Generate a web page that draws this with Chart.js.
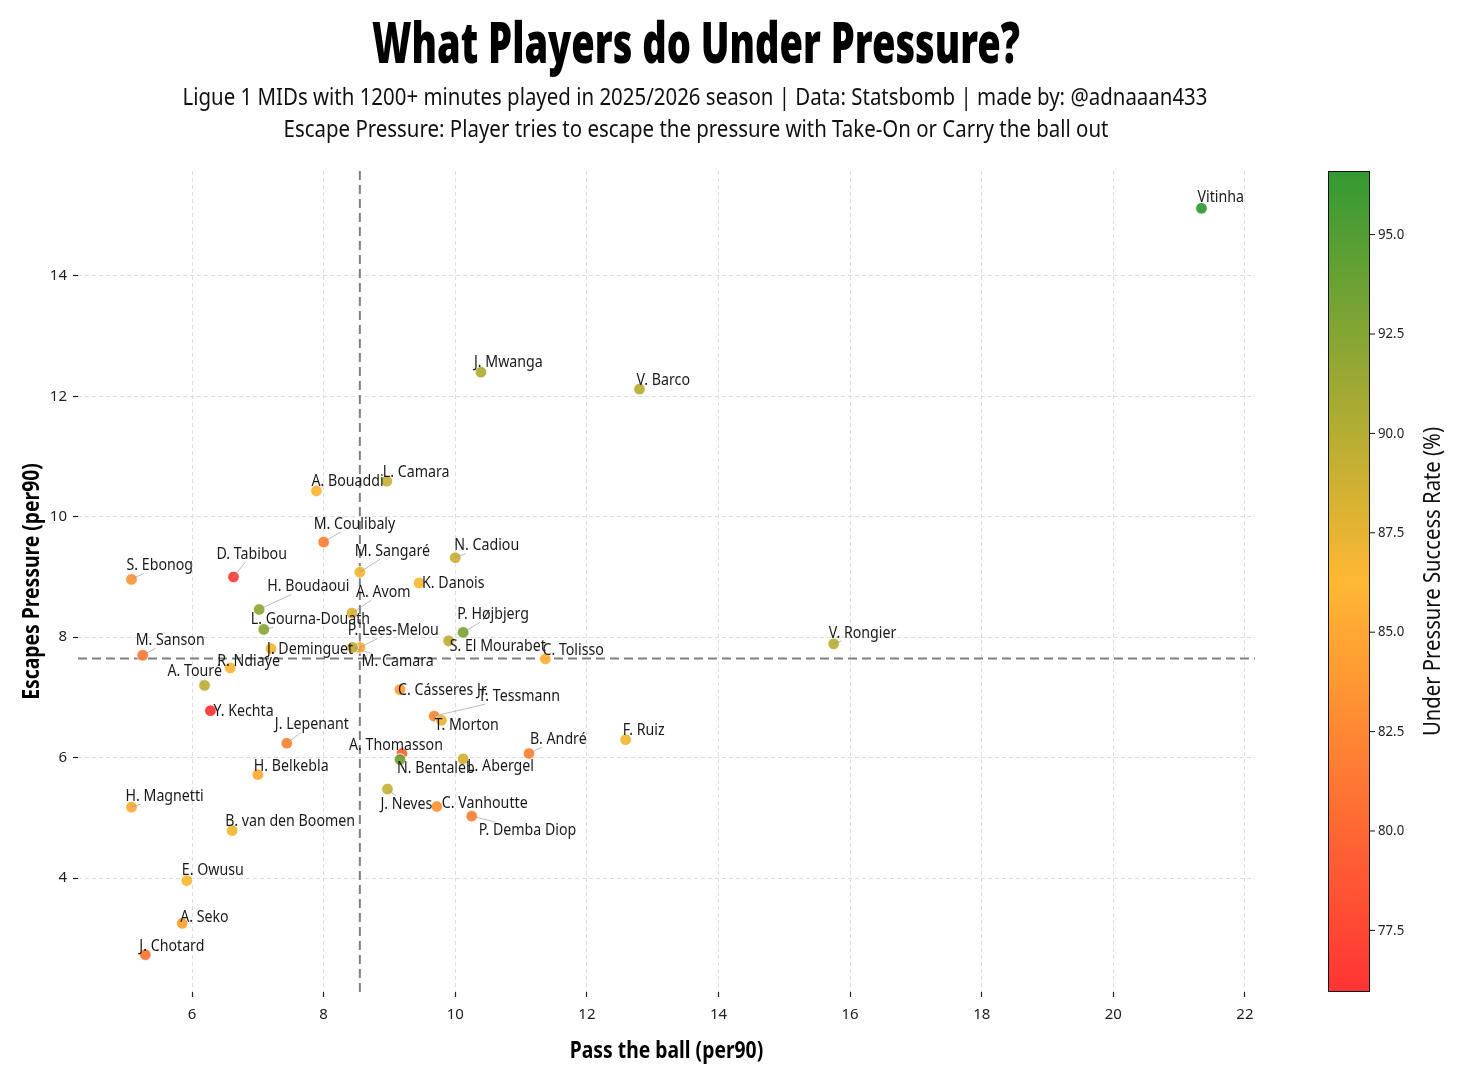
<!DOCTYPE html>
<html>
<head>
<meta charset="utf-8">
<script src="https://cdn.jsdelivr.net/npm/chart.js@4.4.1/dist/chart.umd.min.js"></script>
<style>
html, body { margin: 0; padding: 0; background: #fff; }
canvas { display: block; }
</style>
</head>
<body>
<canvas id="chart" width="1460" height="1078"></canvas>
<script>
// data
var players = ["Vitinha", "J. Mwanga", "V. Barco", "L. Camara", "A. Bouaddi", "M. Coulibaly",
  "D. Tabibou", "S. Ebonog", "M. Sangaré", "N. Cadiou", "K. Danois", "H. Boudaoui", "A. Avom",
  "L. Gourna-Douath", "P. Højbjerg", "S. El Mourabet", "J. Deminguet", "P. Lees-Melou", "M. Camara",
  "C. Tolisso", "V. Rongier", "M. Sanson", "R. Ndiaye", "A. Touré", "Y. Kechta", "J. Lepenant",
  "C. Cásseres Jr.", "T. Tessmann", "T. Morton", "A. Thomasson", "N. Bentaleb", "L. Abergel",
  "B. André", "F. Ruiz", "J. Neves", "C. Vanhoutte", "P. Demba Diop", "H. Belkebla", "H. Magnetti",
  "B. van den Boomen", "E. Owusu", "A. Seko", "J. Chotard"];
var passBall = [21.34, 10.39, 12.80, 8.96, 7.89, 8.00, 6.63, 5.08, 8.55, 10.00, 9.45, 7.02, 8.43,
  7.09, 10.12, 9.90, 7.20, 8.55, 8.44, 11.37, 15.75, 5.25, 6.58, 6.19, 6.28, 7.44,
  9.16, 9.68, 9.79, 9.19, 9.16, 10.12, 11.12, 12.59, 8.97, 9.72, 10.25, 7.00, 5.08,
  6.61, 5.92, 5.85, 5.29];
var escapes = [15.12, 12.40, 12.12, 10.59, 10.43, 9.58, 9.00, 8.96, 9.08, 9.32, 8.90, 8.46, 8.40,
  8.13, 8.08, 7.94, 7.81, 7.83, 7.83, 7.64, 7.89, 7.70, 7.49, 7.20, 6.78, 6.24,
  7.13, 6.69, 6.62, 6.07, 5.97, 5.98, 6.07, 6.30, 5.48, 5.19, 5.03, 5.72, 5.18,
  4.79, 3.96, 3.25, 2.73];
var successRate = [96.6, 90.3, 90.0, 89.0, 86.0, 82.0, 76.5, 83.5, 87.0, 89.0, 86.5, 92.0, 88.0,
  92.3, 93.0, 89.5, 87.0, 85.0, 89.5, 85.5, 89.7, 81.5, 86.0, 89.5, 75.95, 82.0,
  84.0, 82.5, 87.5, 79.5, 93.5, 88.5, 82.0, 87.0, 89.0, 83.5, 82.0, 85.0, 85.0,
  87.0, 86.5, 84.5, 81.0];
var medianPass = 8.55;
var medianEscapes = 7.645;
var cbTicks = [77.5, 80.0, 82.5, 85.0, 87.5, 90.0, 92.5, 95.0];

// label offsets from each dot, in pixels (dx to text left, dy to text middle)
var labelOffsets = [[-4,-11],[-7,-10],[-3,-9],[-4,-9],[-5,-10],[-10,-18],[-17,-23],[-5,-14],[-5,-21],
  [-1,-12],[3,0],[8,-23],[4,-21],[-13,-10],[-6,-18],[1,5],[-4,1],[-12,-17],[9,14],[-3,-9],[-5,-11],
  [-7,-15],[-13,-7],[-37,-14],[3,1],[-12,-19],[-2,1],[44,-20],[-7,5],[-53,-8],[-3,9],[4,7],[1,-14],
  [-3,-9],[-7,15],[5,-3],[7,14],[-4,-8],[-6,-11],[-7,-9],[-5,-10],[-2,-6],[-6,-8]];

var FAM = '"Noto Sans", "Open Sans", sans-serif';
var cbMin = Math.min.apply(null, successRate);
var cbMax = Math.max.apply(null, successRate);
var cmap = [[255, 51, 51], [255, 184, 51], [51, 153, 51]];

function rateColor(v, a) {
  var t = (v - cbMin) / (cbMax - cbMin);
  t = Math.max(0, Math.min(1, t));
  var s = t < 0.5 ? 0 : 1;
  var u = t < 0.5 ? t / 0.5 : (t - 0.5) / 0.5;
  var c0 = cmap[s], c1 = cmap[s + 1];
  var r = Math.round(c0[0] + (c1[0] - c0[0]) * u);
  var g = Math.round(c0[1] + (c1[1] - c0[1]) * u);
  var b = Math.round(c0[2] + (c1[2] - c0[2]) * u);
  return 'rgba(' + r + ',' + g + ',' + b + ',' + a + ')';
}

function spanX(arr) {
  var lo = Math.min.apply(null, arr), hi = Math.max.apply(null, arr), m = (hi - lo) * 0.05;
  return [lo - m, hi + m];
}
var xLim = spanX(passBall);
var yLim = spanX(escapes);

// draw text squeezed to a condensed look
function condText(ctx, txt, x, y, squeeze) {
  ctx.save();
  ctx.translate(x, y);
  ctx.scale(squeeze, 1);
  ctx.fillText(txt, 0, 0);
  ctx.restore();
}

var decor = {
  id: 'decor',
  beforeDatasetsDraw: function(chart) {
    var ctx = chart.ctx, a = chart.chartArea;
    var xs = chart.scales.x, ys = chart.scales.y;
    ctx.save();
    ctx.strokeStyle = '#808080';
    ctx.lineWidth = 2;
    ctx.setLineDash([9, 5]);
    var mx = xs.getPixelForValue(medianPass);
    ctx.beginPath(); ctx.moveTo(mx, a.top); ctx.lineTo(mx, a.bottom); ctx.stroke();
    var my = ys.getPixelForValue(medianEscapes);
    ctx.beginPath(); ctx.moveTo(a.left, my); ctx.lineTo(a.right, my); ctx.stroke();
    ctx.restore();
  },
  afterDatasetsDraw: function(chart) {
    var ctx = chart.ctx;
    var meta = chart.getDatasetMeta(0);
    var sq = 0.86;
    ctx.save();
    ctx.font = '16.5px ' + FAM;
    ctx.textBaseline = 'middle';
    ctx.textAlign = 'left';
    meta.data.forEach(function(pt, i) {
      var off = labelOffsets[i];
      var lx = pt.x + off[0], ly = pt.y + off[1];
      var w = ctx.measureText(players[i]).width * sq;
      var cx = lx + w / 2, cy = ly;
      var l = lx, r = lx + w, t = ly - 8, b = ly + 8;
      var inside = pt.x >= l && pt.x <= r && pt.y >= t && pt.y <= b;
      if (!inside) {
        var dx = cx - pt.x, dy = cy - pt.y;
        var tY = 0;
        if (dy > 0 && pt.y < t) tY = (t - pt.y) / dy;
        if (dy < 0 && pt.y > b) tY = (b - pt.y) / dy;
        var tX = 0;
        if (dx > 0 && pt.x < l) tX = (l - pt.x) / dx;
        if (dx < 0 && pt.x > r) tX = (r - pt.x) / dx;
        var tk = Math.max(tX, tY);
        var ex = pt.x + dx * tk, ey = pt.y + dy * tk;
        if (Math.hypot(ex - pt.x, ey - pt.y) > 7) {
          ctx.strokeStyle = 'rgba(150,150,150,0.8)';
          ctx.lineWidth = 0.8;
          ctx.beginPath(); ctx.moveTo(pt.x, pt.y); ctx.lineTo(ex, ey); ctx.stroke();
        }
      }
      ctx.fillStyle = '#1a1a1a';
      condText(ctx, players[i], lx, ly, sq);
    });
    ctx.restore();
  },
  afterDraw: function(chart) {
    var ctx = chart.ctx, a = chart.chartArea;
    ctx.save();
    // titles
    ctx.fillStyle = '#000';
    ctx.textAlign = 'left';
    ctx.textBaseline = 'alphabetic';
    ctx.font = '900 56px ' + FAM;
    var tw = ctx.measureText('What Players do Under Pressure?').width;
    var s = 648 / tw;
    condText(ctx, 'What Players do Under Pressure?', 696 - 324, 63, s);

    ctx.font = '24px ' + FAM;
    ctx.textBaseline = 'middle';
    ctx.fillStyle = '#111';
    var sub1 = 'Ligue 1 MIDs with 1200+ minutes played in 2025/2026 season | Data: Statsbomb | made by: @adnaaan433';
    var sub2 = 'Escape Pressure: Player tries to escape the pressure with Take-On or Carry the ball out';
    var w1 = ctx.measureText(sub1).width, s1 = 1025 / w1;
    condText(ctx, sub1, 695 - 512.5, 98, s1);
    var w2 = ctx.measureText(sub2).width;
    condText(ctx, sub2, 696 - w2 * s1 / 2, 130, s1);

    // axis titles
    ctx.fillStyle = '#000';
    ctx.font = 'bold 23px ' + FAM;
    ctx.textAlign = 'center';
    ctx.save();
    ctx.translate((a.left + a.right) / 2, 1051);
    ctx.scale(0.84, 1);
    ctx.fillText('Pass the ball (per90)', 0, 0);
    ctx.restore();
    ctx.save();
    ctx.translate(32, (a.top + a.bottom) / 2);
    ctx.rotate(-Math.PI / 2);
    ctx.scale(0.84, 1);
    ctx.fillText('Escapes Pressure (per90)', 0, 0);
    ctx.restore();

    // colour bar
    var x0 = 1328, x1 = 1370, top = a.top, bot = a.bottom;
    var grad = ctx.createLinearGradient(0, bot, 0, top);
    grad.addColorStop(0, rateColor(cbMin, 1));
    grad.addColorStop(0.5, rateColor((cbMin + cbMax) / 2, 1));
    grad.addColorStop(1, rateColor(cbMax, 1));
    ctx.fillStyle = grad;
    ctx.fillRect(x0, top, x1 - x0, bot - top);
    ctx.strokeStyle = '#111';
    ctx.lineWidth = 1;
    ctx.strokeRect(x0 + 0.5, top + 0.5, x1 - x0 - 1, bot - top - 1);
    ctx.font = '15px ' + FAM;
    ctx.textAlign = 'left';
    ctx.textBaseline = 'middle';
    ctx.fillStyle = '#222';
    cbTicks.forEach(function(v) {
      var y = bot - (v - cbMin) / (cbMax - cbMin) * (bot - top);
      ctx.beginPath(); ctx.moveTo(x1, y); ctx.lineTo(x1 + 5, y); ctx.stroke();
      condText(ctx, v.toFixed(1), x1 + 8, y, 0.88);
    });
    ctx.save();
    ctx.font = '23px ' + FAM;
    ctx.textAlign = 'center';
    ctx.fillStyle = '#111';
    ctx.translate(1433, (top + bot) / 2);
    ctx.rotate(-Math.PI / 2);
    ctx.scale(0.88, 1);
    ctx.fillText('Under Pressure Success Rate (%)', 0, 0);
    ctx.restore();
    ctx.restore();
  }
};

var ctxEl = document.getElementById('chart');
new Chart(ctxEl, {
  type: 'scatter',
  data: {
    datasets: [{
      data: players.map(function(p, i) { return { x: passBall[i], y: escapes[i] }; }),
      backgroundColor: successRate.map(function(v) { return rateColor(v, 0.92); }),
      borderColor: '#ffffff',
      borderWidth: 0.8,
      pointRadius: 5.8,
      pointHoverRadius: 5.8
    }]
  },
  options: {
    responsive: false,
    devicePixelRatio: 1,
    animation: false,
    events: [],
    layout: { padding: { top: 171, right: 205, left: 0, bottom: 0 } },
    plugins: { legend: { display: false }, tooltip: { enabled: false } },
    scales: {
      x: {
        type: 'linear',
        min: xLim[0], max: xLim[1],
        afterFit: function(s) { s.height = 86; },
        ticks: { stepSize: 2, includeBounds: false, padding: 9, color: '#222',
          font: { family: FAM, size: 15 } },
        grid: { color: '#dedede', lineWidth: 1, tickColor: '#222', tickLength: 5, tickWidth: 1.2 },
        border: { display: false, dash: [4, 3] }
      },
      y: {
        type: 'linear',
        min: yLim[0], max: yLim[1],
        afterFit: function(s) { s.width = 78; },
        ticks: { stepSize: 2, includeBounds: false, padding: 6, color: '#222',
          font: { family: FAM, size: 15 } },
        grid: { color: '#dedede', lineWidth: 1, tickColor: '#222', tickLength: 5, tickWidth: 1.2 },
        border: { display: false, dash: [4, 3] }
      }
    }
  },
  plugins: [decor]
});
</script>
</body>
</html>
